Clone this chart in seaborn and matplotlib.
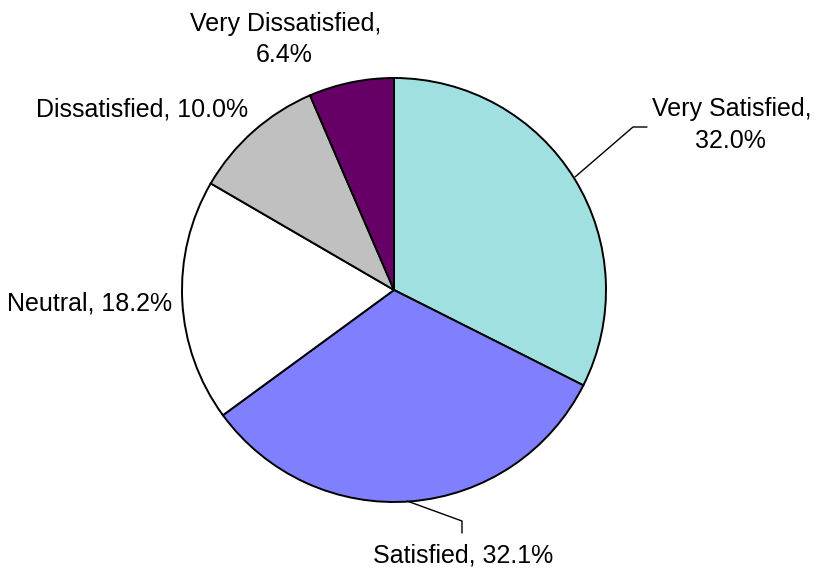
import matplotlib
matplotlib.use("Agg")
import matplotlib.pyplot as plt
import seaborn as sns

categories = ["Very Satisfied", "Satisfied", "Neutral", "Dissatisfied", "Very Dissatisfied"]
values = [32.0, 32.1, 18.2, 10.0, 6.4]
colors = ["#A0E0E0", "#8080FF", "#FFFFFF", "#C0C0C0", "#660066"]

sns.set_theme(style="white")
plt.rcParams["font.family"] = ["Liberation Sans", "DejaVu Sans"]

W, H = 817, 573
fig = plt.figure(figsize=(W / 100, H / 100), dpi=100)
ax = fig.add_axes([0, 0, 1, 1])

cx, cy, r = 394, H - 290, 212
ax.pie(values, colors=colors, startangle=90, counterclock=False,
       center=(cx, cy), radius=r,
       wedgeprops=dict(edgecolor="black", linewidth=1.4))
ax.set_xlim(0, W)
ax.set_ylim(0, H)
ax.set_aspect("equal")
ax.axis("off")

pct = [f"{v:.1f}%" for v in values]
fs = 18
tc = "#000000"
# Very Satisfied
ax.text(732, H - 116, f"{categories[0]},", ha="center", va="baseline", fontsize=fs, color=tc)
ax.text(730, H - 148, pct[0], ha="center", va="baseline", fontsize=fs, color=tc)
ax.plot([575, 633, 647], [H - 177, H - 127, H - 127], color="black", lw=1.0)
# Satisfied
ax.text(463, H - 563, f"{categories[1]}, {pct[1]}", ha="center", va="baseline", fontsize=fs, color=tc)
ax.plot([407, 462, 462], [H - 501, H - 521, H - 533], color="black", lw=1.0)
# Neutral
ax.text(172, H - 310, f"{categories[2]}, {pct[2]}", ha="right", va="baseline", fontsize=fs, color=tc)
# Dissatisfied
ax.text(142, H - 116, f"{categories[3]}, {pct[3]}", ha="center", va="baseline", fontsize=fs, color=tc)
# Very Dissatisfied
ax.text(286, H - 31, f"{categories[4]},", ha="center", va="baseline", fontsize=fs, color=tc)
ax.text(284, H - 62, pct[4], ha="center", va="baseline", fontsize=fs, color=tc)

fig.savefig("out.png", dpi=100, facecolor="white")
